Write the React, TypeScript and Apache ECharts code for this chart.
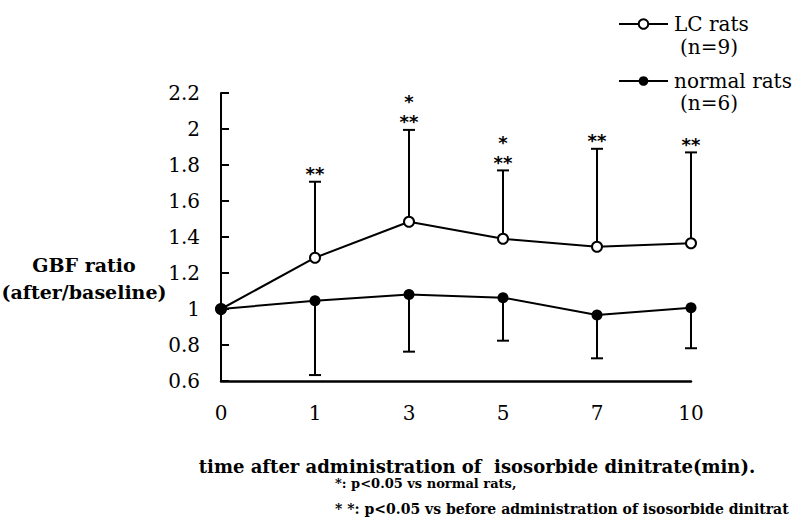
import React, { useEffect, useRef } from "react";
import * as echarts from "echarts";

const categories = ["0", "1", "3", "5", "7", "10"];
const lcMean = [1.0, 1.285, 1.485, 1.39, 1.346, 1.365];
const lcUpper = [1.0, 1.707, 1.995, 1.77, 1.89, 1.87];
const lcSignif = ["", "**", "*\n**", "*\n**", "**", "**"];
const normalMean = [1.0, 1.046, 1.08, 1.063, 0.967, 1.007];
const normalLower = [1.0, 0.633, 0.763, 0.824, 0.726, 0.782];
const yTicks = { min: 0.6, max: 2.2, interval: 0.2 };
const legendNames = ["LC rats", "normal rats"];
const legendCounts = ["(n=9)", "(n=6)"];
const footnotes = [
  "*: p<0.05 vs normal rats,",
  "* *: p<0.05 vs before administration of isosorbide dinitrat",
];
const xTitle = "time after administration of  isosorbide dinitrate(min).";
const yTitle = "GBF ratio\n(after/baseline)";

const SERIF = "'DejaVu Serif', serif";

export default function App() {
  const ref = useRef<HTMLDivElement>(null);
  useEffect(() => {
    if (!ref.current) return;
    const chart = echarts.init(ref.current, undefined, { renderer: "svg" });

    const lcErr = categories.map((_, i) => [i, lcMean[i], lcUpper[i]]);
    const nErr = categories.map((_, i) => [i, normalMean[i], normalLower[i]]);

    const errRender = (params: any, api: any) => {
      const idx = api.value(0);
      const mean = api.value(1);
      const bound = api.value(2);
      const i = params.dataIndex;
      const stars = params.seriesIndex === 2 ? lcSignif[i] : "";
      if (mean === bound) return { type: "group", children: [] };
      const p0 = api.coord([idx, mean]);
      const p1 = api.coord([idx, bound]);
      const half = 6;
      const children: any[] = [
        {
          type: "line",
          shape: { x1: p0[0], y1: p0[1], x2: p1[0], y2: p1[1] },
          style: { stroke: "#000", lineWidth: 2 },
        },
        {
          type: "line",
          shape: { x1: p1[0] - half, y1: p1[1], x2: p1[0] + half, y2: p1[1] },
          style: { stroke: "#000", lineWidth: 2 },
        },
      ];
      if (stars) {
        const lines = stars.split("\n").reverse();
        lines.forEach((ln: string, k: number) => {
          children.push({
            type: "text",
            style: {
              text: ln,
              x: p1[0],
              y: p1[1] + 1 - k * 20,
              align: "center",
              verticalAlign: "bottom",
              font: "bold 18px 'DejaVu Sans'",
              lineHeight: 18,
              fill: "#000",
            },
          });
        });
      }
      return { type: "group", children };
    };

    chart.setOption({
      animation: false,
      backgroundColor: "#fff",
      grid: { left: 221, right: 107, top: 93, bottom: 141, containLabel: false },
      legend: {
        orient: "vertical",
        left: 613,
        top: 9,
        itemWidth: 49,
        itemHeight: 12,
        itemGap: 37,
        data: legendNames,
        textStyle: {
          fontFamily: SERIF,
          fontSize: 20,
          lineHeight: 20,
          color: "#000",
          padding: [0, 0, 0, 1],
        },
      },
      xAxis: {
        type: "category",
        data: categories,
        boundaryGap: false,
        axisTick: { show: false },
        axisLine: { lineStyle: { color: "#000", width: 2.5 } },
        axisLabel: { fontFamily: SERIF, fontSize: 20, color: "#000", margin: 22 },
        splitLine: { show: false },
      },
      yAxis: {
        type: "value",
        min: yTicks.min,
        max: yTicks.max,
        interval: yTicks.interval,
        axisLine: { show: true, lineStyle: { color: "#000", width: 2 } },
        axisTick: { show: true, inside: true, length: 8, lineStyle: { color: "#000", width: 2 } },
        axisLabel: { fontFamily: SERIF, fontSize: 20, color: "#000", margin: 21 },
        splitLine: { show: false },
      },
      graphic: [
        {
          type: "text",
          x: 84,
          y: 278,
          style: {
            text: yTitle,
            font: `bold 19px ${SERIF}`,
            align: "center",
            verticalAlign: "middle",
            lineHeight: 27,
            fill: "#000",
          },
        },
        {
          type: "text",
          x: 477,
          y: 466,
          style: {
            text: xTitle,
            font: `bold 18px ${SERIF}`,
            align: "center",
            verticalAlign: "middle",
            fill: "#000",
          },
        },
        {
          type: "text",
          x: 335,
          y: 483,
          style: { text: footnotes[0], font: `bold 13px ${SERIF}`, verticalAlign: "middle", fill: "#000" },
        },
        {
          type: "text",
          x: 335,
          y: 509,
          style: { text: footnotes[1], font: `bold 14px ${SERIF}`, verticalAlign: "middle", fill: "#000" },
        },
        {
          type: "text",
          x: 680,
          y: 47,
          style: { text: legendCounts[0], font: `20px ${SERIF}`, verticalAlign: "middle", fill: "#000" },
        },
        {
          type: "text",
          x: 680,
          y: 103,
          style: { text: legendCounts[1], font: `20px ${SERIF}`, verticalAlign: "middle", fill: "#000" },
        },
      ],
      series: [
        {
          name: legendNames[0],
          type: "line",
          data: lcMean,
          symbol: "emptyCircle",
          symbolSize: 10,
          z: 5,
          lineStyle: { color: "#000", width: 2 },
          itemStyle: { color: "#000", borderColor: "#000", borderWidth: 2 },
        },
        {
          name: legendNames[1],
          type: "line",
          data: normalMean,
          symbol: "circle",
          symbolSize: 11,
          z: 5,
          lineStyle: { color: "#000", width: 2 },
          itemStyle: { color: "#000" },
        },
        {
          type: "custom",
          data: lcErr,
          renderItem: errRender,
          z: 2,
          encode: { x: 0, y: [1, 2] },
          silent: true,
        },
        {
          type: "custom",
          data: nErr,
          renderItem: errRender,
          z: 2,
          encode: { x: 0, y: [1, 2] },
          silent: true,
        },
      ],
    });
    return () => chart.dispose();
  }, []);
  return (
    <div
      ref={ref}
      style={{ position: "absolute", left: 0, top: 0, width: 798, height: 522 }}
    />
  );
}
